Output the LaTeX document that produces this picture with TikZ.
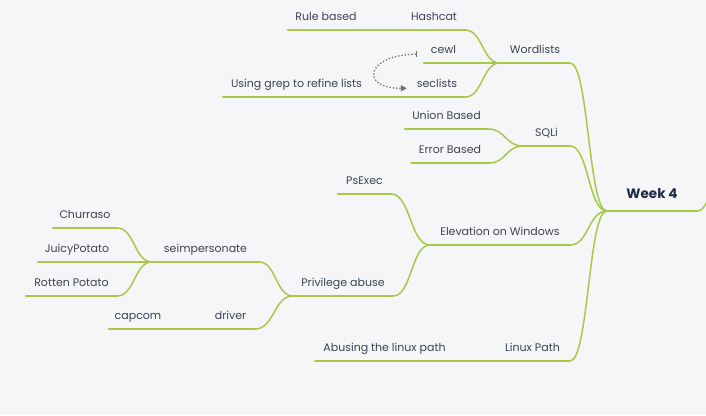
\documentclass[tikz,border=0pt]{standalone}
\usepackage{fontspec}
\setmainfont{Poppins}
\usetikzlibrary{calc,arrows.meta}

\definecolor{bgcol}{HTML}{F6F6F8}
\definecolor{mmgreen}{HTML}{A6C94A}
\definecolor{txtcol}{HTML}{3B4452}
\definecolor{rootcol}{HTML}{1F2A44}
\definecolor{relcol}{HTML}{6B6F78}

\tikzset{
  topic/.style={anchor=south, inner xsep=0pt, inner ysep=0pt, text height=8bp, text depth=9bp,
                text=txtcol, font=\fontsize{11bp}{13bp}\selectfont},
  roottopic/.style={anchor=south, inner xsep=0pt, inner ysep=0pt, text height=10bp, text depth=12bp,
                text=rootcol, font=\fontsize{13.5bp}{15bp}\selectfont\bfseries},
  branch/.style={draw=mmgreen, line width=1.5bp, line cap=round},
  conn/.style={to path={let \p1=(\tikztostart), \p2=(\tikztotarget) in
      .. controls ({0.5*(\x1+\x2)},\y1) and ({0.5*(\x1+\x2)},\y2) .. (\tikztotarget)}},
  relation/.style={draw=relcol, line width=1.3bp, dotted, {Bar[width=6bp]}-{Triangle[length=6bp,width=6bp]}}
}

\begin{document}
\begin{tikzpicture}[x=1bp, y=-1bp]
	\fill [bgcol] (0,0) rectangle (706,415);
	\clip (0,0) rectangle (706,415);

% root and main branches
\node [roottopic, minimum width=90bp] (week) at (652,211) {Week 4};
\node [topic, minimum width=70bp] (wordlists) at (535,63) {Wordlists};
\node [topic, minimum width=47bp] (sqli) at (546.5,146) {SQLi};
\node [topic, minimum width=140bp] (elevation) at (500,245) {Elevation on Windows};
\node [topic, minimum width=75bp] (linuxpath) at (532.5,361) {Linux Path};

% wordlists
\node [topic, minimum width=62bp] (hashcat) at (434,30) {Hashcat};
\node [topic, minimum width=76bp] (rulebased) at (326,30) {Rule based};
\node [topic, minimum width=39bp] (cewl) at (443.5,63) {cewl};
\node [topic, minimum width=56bp] (seclists) at (437,97) {seclists};
\node [topic, minimum width=147bp] (grep) at (296.5,97) {Using grep to refine lists};

% sqli
\node [topic, minimum width=83bp] (union) at (446.5,129) {Union Based};
\node [topic, minimum width=78bp] (error) at (450,163) {Error Based};

% elevation on windows
\node [topic, minimum width=53bp] (psexec) at (364.5,194) {PsExec};
\node [topic, minimum width=100bp] (privabuse) at (343,296) {Privilege abuse};
\node [topic, minimum width=107bp] (seimp) at (205.5,262) {seimpersonate};
\node [topic, minimum width=49bp] (driver) at (230.5,329) {driver};
\node [topic, minimum width=58bp] (capcom) at (138,329) {capcom};
\node [topic, minimum width=64bp] (churraso) at (85,228) {Churraso};
\node [topic, minimum width=78bp] (juicy) at (77,262) {JuicyPotato};
\node [topic, minimum width=91bp] (rotten) at (71.5,296) {Rotten Potato};

% linux path
\node [topic, minimum width=139bp] (abusing) at (384.5,361) {Abusing the linux path};

\coordinate (offright) at (730,150);

% underlines
\foreach \n in {week,wordlists,sqli,elevation,linuxpath,hashcat,rulebased,cewl,seclists,grep,
                union,error,psexec,privabuse,seimp,driver,capcom,churraso,juicy,rotten,abusing}
    \draw [branch] (\n.south west) -- (\n.south east);

% connectors
\foreach \kid/\up in {wordlists/week,sqli/week,elevation/week,linuxpath/week,
                   hashcat/wordlists,rulebased/hashcat,cewl/wordlists,seclists/wordlists,grep/seclists,
                   union/sqli,error/sqli,psexec/elevation,privabuse/elevation,
                   seimp/privabuse,driver/privabuse,capcom/driver,
                   churraso/seimp,juicy/seimp,rotten/seimp,abusing/linuxpath}
    \draw [branch] (\kid.south east) to[conn] (\up.south west);

\draw [branch] (week.south east) to[conn] (offright);

\draw [relation] ([xshift=-7bp]cewl.west) .. controls +(-50,0) and +(-48,0) .. ([xshift=-2bp]seclists.west);

\end{tikzpicture}
\end{document}
